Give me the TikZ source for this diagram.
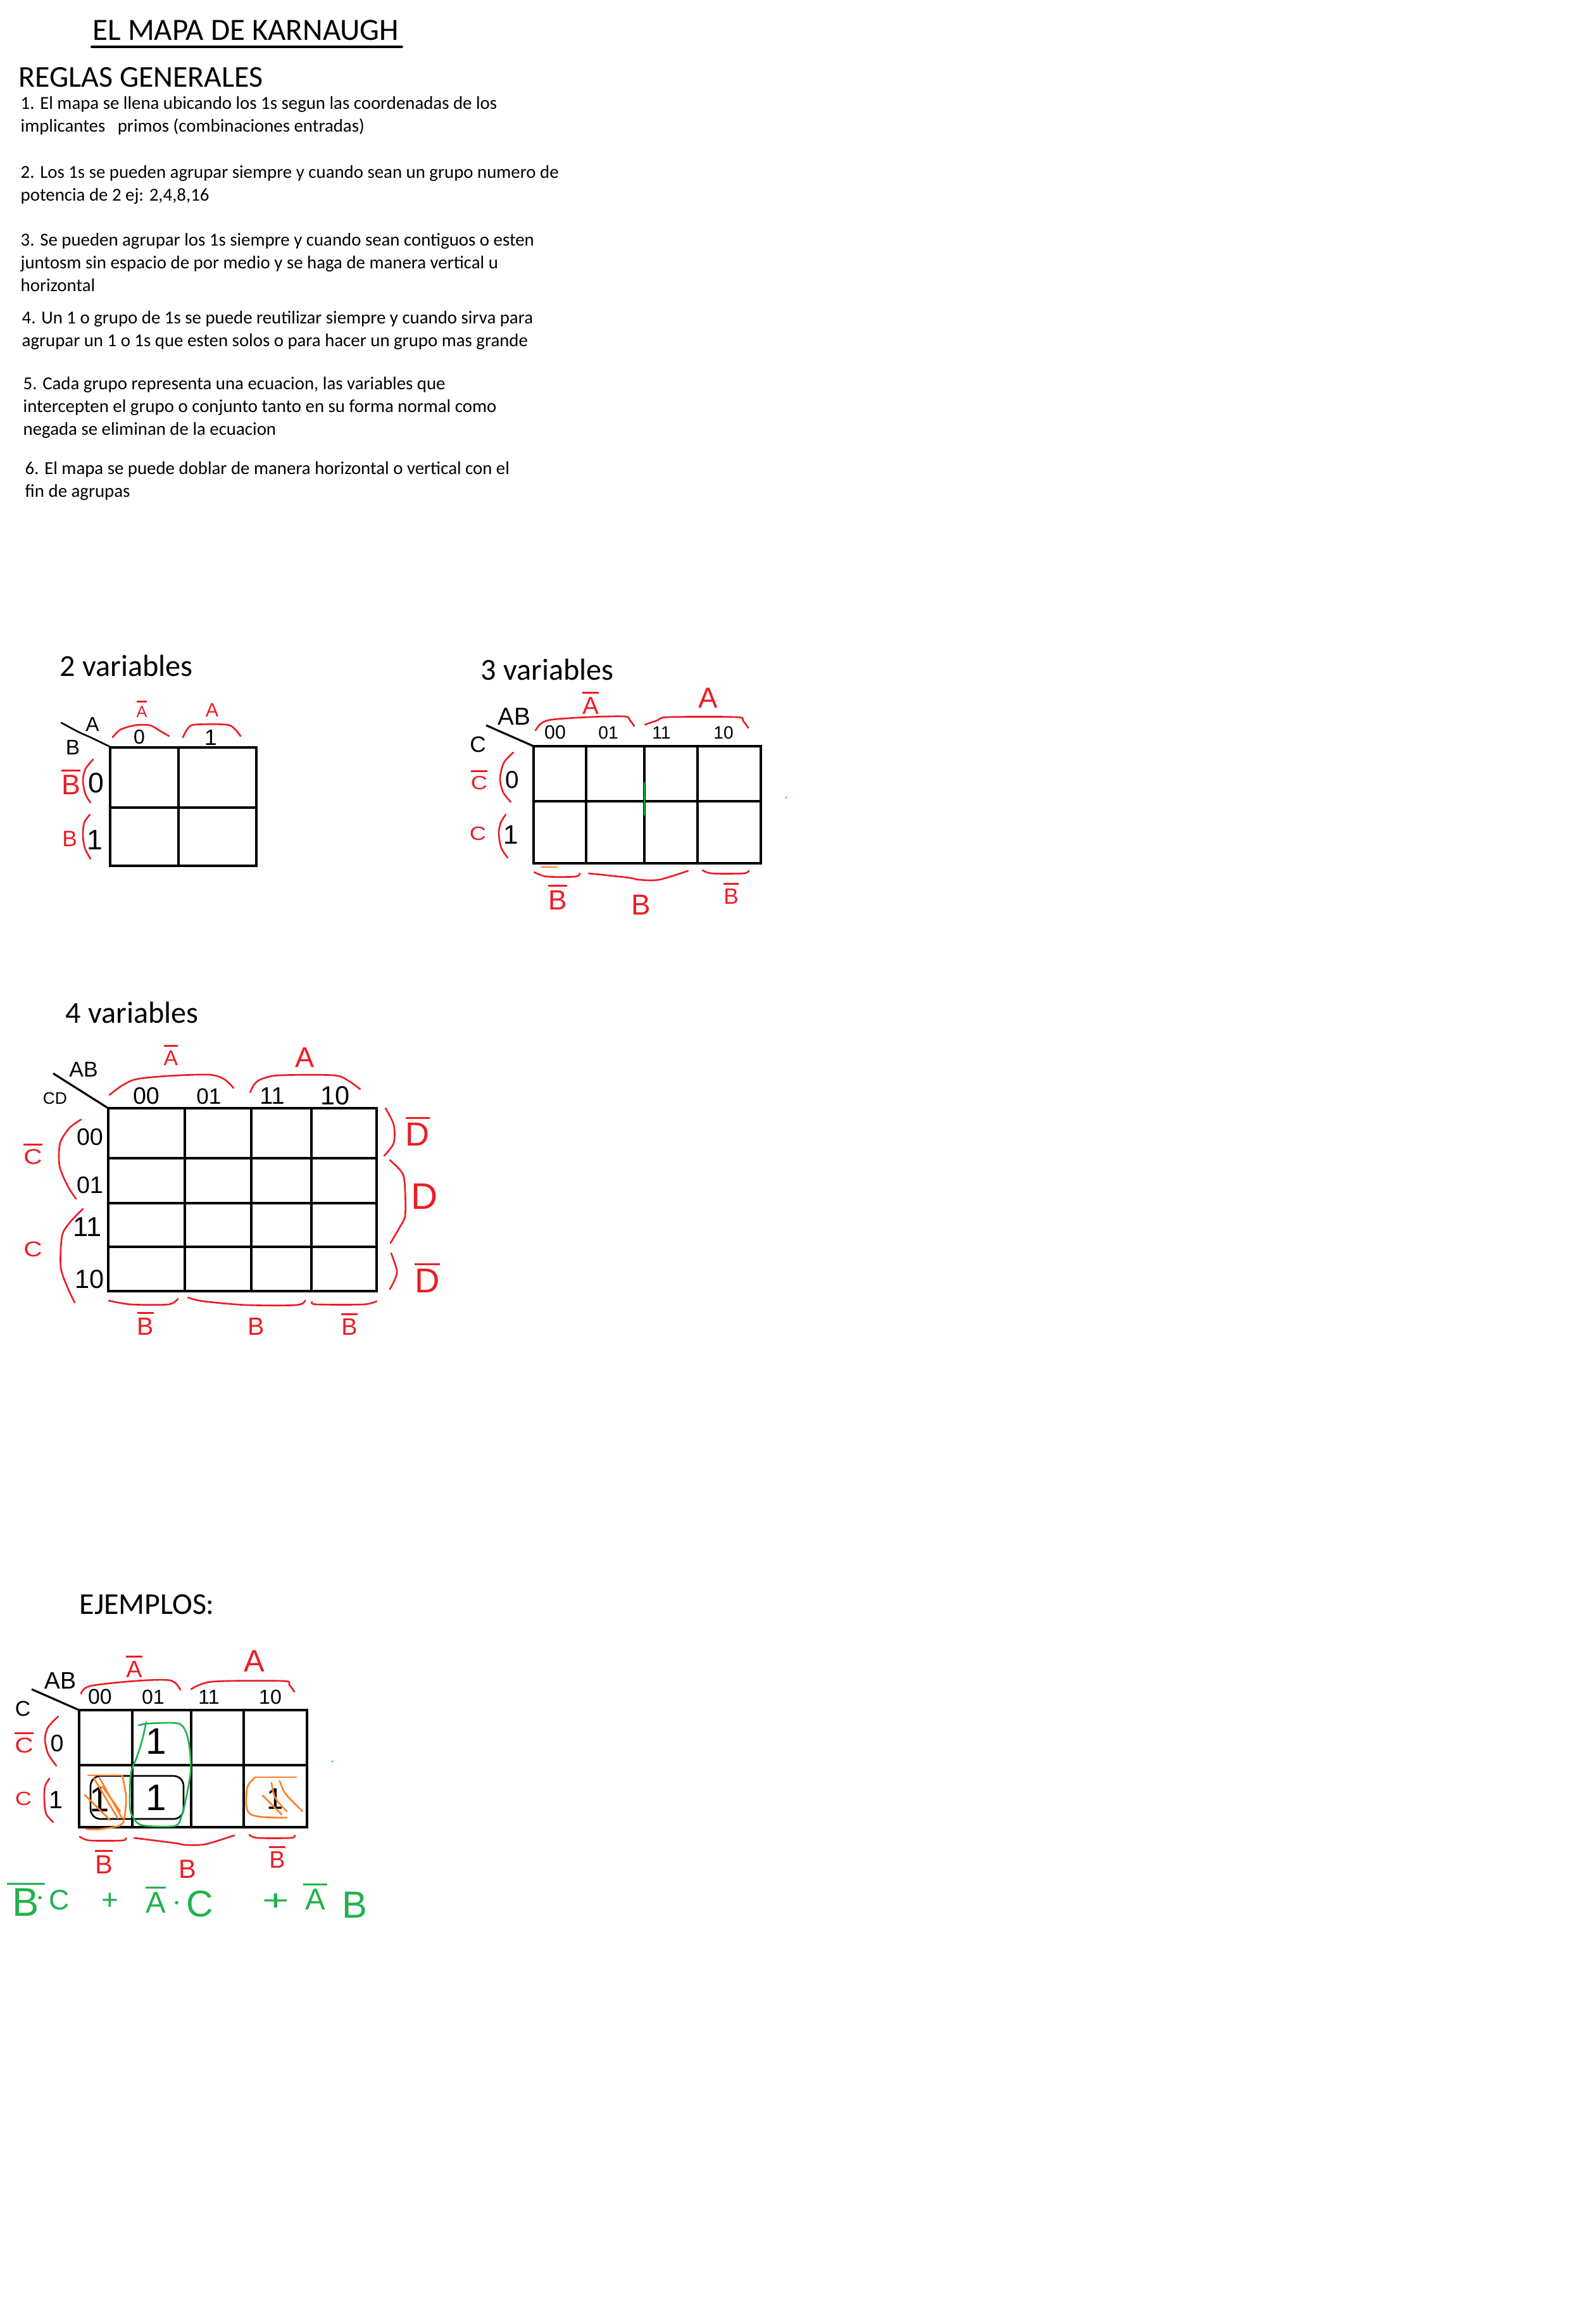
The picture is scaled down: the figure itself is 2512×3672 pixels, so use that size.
\documentclass[tikz,border=0pt]{standalone}
\usepackage{fontspec}
\setmainfont{Carlito}
\newfontfamily\handfont{Liberation Sans}
\usetikzlibrary{calc}
\newcommand{\ol}[2][0pt]{\vbox{\hrule height 0.8pt\kern 1.6pt\hbox{\kern#1#2\kern#1}}}

\begin{document}
\begin{tikzpicture}[
    x=0.01cm, y=-0.01cm,
    txt/.style={anchor=base west, inner sep=0pt, align=left,
      font=\fontsize{8.2}{10.1}\selectfont},
    headline/.style={anchor=base west, inner sep=0pt, font=\fontsize{#1}{#1}\selectfont},
    hand/.style={anchor=base, inner sep=0pt, font=\handfont\fontsize{#1}{#1}\selectfont},
    kgrid/.style={line width=1.15pt},
    pen/.style={line width=0.75pt, line cap=round, line join=round},
    brace/.style={pen, mred}
  ]
    \definecolor{mred}{RGB}{237,28,36}
    \definecolor{mgreen}{RGB}{34,177,76}
    \definecolor{morange}{RGB}{255,127,39}

    \useasboundingbox[fill=white] (0,0) rectangle (2512,3672);

    % reglas (each node sits on the baseline of its last line)
    \node[headline=13.9] (title) at (146,63) {EL MAPA DE KARNAUGH};
    \draw[line width=1.1pt, line cap=round] ($(title.base west)+(-1,11)$) -- ($(title.base east)+(4,11)$);
    \node[headline=13.6] (rules) at (29,137) {REGLAS GENERALES};
    \node[txt] (r1) at (32,208) {1. El mapa se llena ubicando los 1s segun las coordenadas de los\\implicantes\ \ \ primos (combinaciones entradas)};
    \node[txt] (r2) at (32,317) {2. Los 1s se pueden agrupar siempre y cuando sean un grupo numero de\\potencia de 2 ej: 2,4,8,16};
    \node[txt] (r3) at (32,460) {3. Se pueden agrupar los 1s siempre y cuando sean contiguos o esten\\juntosm sin espacio de por medio y se haga de manera vertical u\\horizontal};
    \node[txt] (r4) at (34,547) {4. Un 1 o grupo de 1s se puede reutilizar siempre y cuando sirva para\\agrupar un 1 o 1s que esten solos o para hacer un grupo mas grande};
    \node[txt] (r5) at (36,687) {5. Cada grupo representa una ecuacion, las variables que\\intercepten el grupo o conjunto tanto en su forma normal como\\negada se eliminan de la ecuacion};
    \node[txt] (r6) at (39,785) {6. El mapa se puede doblar de manera horizontal o vertical con el\\fin de agrupas};

    % 2 variables
    \node[headline=13.7] (v2) at (94,1068) {2 variables};
    \draw[kgrid] (174,1181) rectangle (405,1368);
    \draw[kgrid] (282,1181) -- (282,1368);
    \draw[kgrid] (174,1276) -- (405,1276);
    \draw[pen] plot[smooth] coordinates {(97,1142) (125,1157) (143,1165) (174,1180)};
    \node[hand=9.1] (v2a) at (146,1155) {A};
    \node[hand=9.5] (v2b) at (115,1192) {B};
    \node[hand=9.1] (v2c0) at (220,1175) {0};
    \node[hand=10] (v2c1) at (333,1177) {1};
    \node[hand=7.2, mred] (v2na) at (224,1133) {\ol{A}};
    \node[hand=8.7, mred] (v2pa) at (335,1132) {A};
    \node[hand=12.7] (v2r0) at (152,1252) {0};
    \node[hand=12.7] (v2r1) at (150,1342) {1};
    \node[hand=12.7, mred] (v2nb) at (112,1255) {\ol{B}};
    \node[hand=10, mred] (v2pb) at (110,1337) {B};
    \draw[brace] plot[smooth] coordinates {(178,1165) (190,1153) (213,1146) (237,1146) (253,1155) (267,1163)};
    \draw[brace] plot[smooth] coordinates {(289,1165) (296,1152) (307,1145) (358,1145) (371,1152) (380,1163)};
    \draw[brace] plot[smooth] coordinates {(147,1200) (135,1215) (131,1233) (135,1255) (143,1268)};
    \draw[brace] plot[smooth] coordinates {(142,1287) (133,1300) (131,1320) (134,1340) (143,1357)};

    % 3 variables
    \node[headline=13.7] (v3) at (759,1074) {3 variables};
    \draw[kgrid] (843,1179) rectangle (1202,1364);
    \draw[kgrid] (926,1179) -- (926,1364);
    \draw[kgrid] (1018,1179) -- (1018,1364);
    \draw[kgrid] (1102,1179) -- (1102,1364);
    \draw[kgrid] (843,1266) -- (1202,1266);
    \draw[line width=0.9pt] (768,1146) -- (843,1179);
    \draw[pen, mgreen] (1018,1237) -- (1018,1288);
    \fill[mgreen] (1242,1260) circle (1.5);
    \draw[pen, morange] (855,1370) -- (880,1370);
    \node[hand=11] (v3ab) at (812,1145) {AB};
    \node[hand=10] (v3c) at (755,1188) {C};
    \node[hand=8.6] (v3c00) at (877,1167) {00};
    \node[hand=8] (v3c01) at (961,1167) {01};
    \node[hand=8] (v3c11) at (1045,1167) {11};
    \node[hand=8] (v3c10) at (1143,1167) {10};
    \node[hand=11, mred] (v3na) at (933,1128) {\ol{A}};
    \node[hand=13, mred] (v3pa) at (1119,1118) {A};
    \node[hand=8.6, mred, xscale=1.2] (v3nc) at (757,1247) {\ol{C}};
    \node[hand=8.6, mred, xscale=1.2] (v3pc) at (755,1327) {C};
    \node[hand=11] (v3r0) at (809,1245) {0};
    \node[hand=12] (v3r1) at (807,1333) {1};
    \node[hand=12.5, mred] (v3nb) at (881,1437) {\ol{B}};
    \node[hand=13, mred] (v3pb) at (1013,1445) {B};
    \node[hand=10, mred] (v3nb2) at (1155,1428) {\ol{B}};
    \draw[brace] plot[smooth] coordinates {(846,1154) (855,1143) (872,1137) (930,1133) (987,1132) (995,1138) (1002,1147)};
    \draw[brace] plot[smooth] coordinates {(1019,1145) (1039,1138) (1056,1133) (1163,1133) (1174,1139) (1182,1150)};
    \draw[brace] plot[smooth] coordinates {(811,1189) (796,1205) (790,1230) (795,1252) (807,1267)};
    \draw[brace] plot[smooth] coordinates {(799,1287) (791,1300) (788,1317) (792,1340) (802,1355)};
    \draw[brace] plot[smooth] coordinates {(844,1378) (864,1385) (909,1385) (916,1380)};
    \draw[brace] plot[smooth] coordinates {(930,1380) (959,1383) (995,1387) (1010,1390) (1041,1390) (1087,1376)};
    \draw[brace] plot[smooth] coordinates {(1110,1375) (1125,1380) (1174,1380) (1183,1376)};

    % 4 variables
    \node[headline=13.7] (v4) at (103,1616) {4 variables};
    \draw[kgrid] (171,1751) rectangle (595,2040);
    \draw[kgrid] (292,1751) -- (292,2040);
    \draw[kgrid] (397,1751) -- (397,2040);
    \draw[kgrid] (492,1751) -- (492,2040);
    \draw[kgrid] (171,1830) -- (595,1830);
    \draw[kgrid] (171,1901) -- (595,1901);
    \draw[kgrid] (171,1970) -- (595,1970);
    \draw[line width=0.9pt] (84,1696) -- (171,1751);
    \node[hand=9.6] (v4ab) at (132,1701) {AB};
    \node[hand=7.5] (v4cd) at (87,1744) {CD};
    \node[hand=10.7] (v4c00) at (231,1744) {00};
    \node[hand=10] (v4c01) at (330,1744) {01};
    \node[hand=10.7] (v4c11) at (430,1744) {11};
    \node[hand=11.8] (v4c10) at (530,1745) {10};
    \node[hand=9.6, mred] (v4na) at (270,1683) {\ol{A}};
    \node[hand=12.9, mred] (v4pa) at (482,1686) {A};
    \node[hand=10.7] (v4r00) at (142,1809) {00};
    \node[hand=10.7] (v4r01) at (142,1885) {01};
    \node[hand=12.3] (v4r11) at (138,1953) {11};
    \node[hand=11.8] (v4r10) at (142,2035) {10};
    \node[hand=9.6, mred, xscale=1.2] (v4nc) at (52,1839) {\ol{C}};
    \node[hand=9.6, mred, xscale=1.2] (v4pc) at (52,1985) {C};
    \node[hand=15, mred] (v4nd) at (660,1810) {\ol{D}};
    \node[hand=16.6, mred] (v4pd) at (671,1910) {D};
    \node[hand=15.5, mred] (v4nd2) at (675,2042) {\ol{D}};
    \node[hand=11.2, mred] (v4nb) at (230,2109) {\ol{B}};
    \node[hand=11.2, mred] (v4pb) at (405,2109) {B};
    \node[hand=10.7, mred] (v4nb2) at (552,2109) {\ol{B}};
    \draw[brace] plot[smooth] coordinates {(173,1730) (193,1715) (216,1705) (266,1700) (330,1698) (354,1705) (369,1719)};
    \draw[brace] plot[smooth] coordinates {(395,1726) (402,1713) (413,1705) (441,1699) (527,1699) (551,1708) (569,1721)};
    \draw[brace] plot[smooth] coordinates {(128,1769) (110,1782) (95,1806) (94,1842) (107,1874) (120,1894)};
    \draw[brace] plot[smooth] coordinates {(131,1910) (110,1932) (98,1953) (96,2002) (107,2035) (118,2058)};
    \draw[brace] plot[smooth] coordinates {(609,1751) (622,1777) (622,1806) (607,1826)};
    \draw[brace] plot[smooth] coordinates {(616,1833) (636,1854) (640,1881) (640,1921) (631,1940) (617,1964)};
    \draw[brace] plot[smooth] coordinates {(618,1980) (627,2007) (624,2021) (616,2037)};
    \draw[brace] plot[smooth] coordinates {(172,2055) (207,2061) (266,2061) (281,2052)};
    \draw[brace] plot[smooth] coordinates {(297,2050) (321,2056) (390,2062) (468,2062) (482,2055)};
    \draw[brace] plot[smooth] coordinates {(493,2057) (500,2061) (574,2061) (595,2056)};

    % ejemplos
    \node[headline=13.6] (ej) at (125,2550) {EJEMPLOS:};
    \draw[kgrid] (125,2702) rectangle (485,2887);
    \draw[kgrid] (209,2702) -- (209,2887);
    \draw[kgrid] (302,2702) -- (302,2887);
    \draw[kgrid] (385,2702) -- (385,2887);
    \draw[kgrid] (125,2789) -- (485,2789);
    \draw[line width=0.9pt] (50,2669) -- (125,2702);
    \node[hand=10.7] (exab) at (95,2668) {AB};
    \node[hand=9.6] (exc) at (36,2711) {C};
    \node[hand=9.6] (exc00) at (158,2692) {00};
    \node[hand=9.1] (exc01) at (242,2692) {01};
    \node[hand=9.1] (exc11) at (330,2692) {11};
    \node[hand=9.1] (exc10) at (427,2692) {10};
    \node[hand=10.7, mred] (exna) at (212,2650) {\ol{A}};
    \node[hand=13.9, mred] (expa) at (402,2641) {A};
    \node[hand=9.6, mred, xscale=1.2] (exnc) at (38,2769) {\ol{C}};
    \node[hand=8.6, mred, xscale=1.2] (expc) at (37,2852) {C};
    \node[hand=10.7] (exr0) at (90,2767) {0};
    \node[hand=11.2] (exr1) at (88,2857) {1};
    \node[hand=16.6] (one1) at (247,2771) {1};
    \node[hand=16] (one2) at (157,2862) {1};
    \node[hand=16.6] (one3) at (247,2860) {1};
    \node[hand=13.4] (one4) at (435,2858) {1};
    \node[hand=11.8, mred] (exnb) at (164,2960) {\ol{B}};
    \node[hand=11.8, mred] (expb) at (296,2967) {B};
    \node[hand=10.7, mred] (exnb2) at (438,2951) {\ol{B}};
    \draw[brace] plot[smooth] coordinates {(128,2676) (142,2664) (213,2656) (269,2655) (285,2670)};
    \draw[brace] plot[smooth] coordinates {(302,2669) (336,2657) (447,2656) (457,2662) (465,2673)};
    \draw[brace] plot[smooth] coordinates {(92,2712) (76,2729) (71,2748) (76,2771) (89,2790)};
    \draw[brace] plot[smooth] coordinates {(78,2810) (71,2823) (70,2844) (73,2866) (84,2879)};
    \draw[brace] plot[smooth] coordinates {(126,2902) (142,2908) (193,2908) (199,2904)};
    \draw[brace] plot[smooth] coordinates {(212,2904) (276,2912) (293,2915) (324,2914) (370,2900)};
    \draw[brace] plot[smooth] coordinates {(394,2899) (407,2904) (459,2904) (466,2900)};
    % grupos
    \draw[pen, rounded corners=4.5pt] (143,2806) rectangle (290,2874);
    \draw[pen, mgreen] plot[smooth] coordinates {(219,2726) (237,2723) (281,2723) (294,2737) (300,2766) (301,2801) (294,2841) (287,2869) (276,2885) (225,2884) (210,2871) (205,2852) (207,2801) (216,2777) (225,2748) (231,2721)};
    \draw[pen, morange] (139,2805) -- (193,2805);
    \draw[pen, morange] plot[smooth] coordinates {(193,2805) (199,2837) (197,2869) (190,2884) (158,2890) (136,2890)};
    \draw[pen, morange] (134,2836) -- (174,2876);
    \draw[pen, morange] (148,2809) -- (186,2873);
    \draw[pen, morange] (157,2809) -- (193,2873);
    \draw[pen, morange] (162,2823) -- (190,2862);
    \draw[pen, morange] (468,2808) -- (403,2808);
    \draw[pen, morange] plot[smooth] coordinates {(403,2808) (391,2823) (389,2852) (395,2866) (415,2871) (453,2872)};
    \draw[pen, morange] plot[smooth] coordinates {(429,2817) (435,2841) (453,2862)};
    \draw[pen, morange] plot[smooth] coordinates {(442,2814) (451,2834) (478,2862)};
    \draw[pen, morange] (415,2837) -- (445,2867);
    \fill[mgreen] (525,2783) circle (1.5);
    % ecuacion
    \node[hand=18, mgreen] (eq1) at (41,3027) {\ol[2.6pt]{B}};
    \node[hand=14, mgreen, anchor=center] (eq2) at (64,3000) {$\cdot$};
    \node[hand=12.7, mgreen] (eq3) at (94,3017) {C};
    \node[hand=13, mgreen, anchor=center] (eq4) at (174,3004) {+};
    \node[hand=13.5, mgreen] (eq5) at (246,3022) {\ol{A}};
    \node[hand=14, mgreen, anchor=center] (eq6) at (280,3008) {$\cdot$};
    \node[hand=16.7, mgreen] (eq7) at (316,3028) {C};
    \node[hand=13, mgreen, anchor=center, xscale=1.6] (eq8) at (436,3005) {+};
    \node[hand=13.5, mgreen] (eq9) at (498,3017) {\ol[1pt]{A}};
    \node[hand=17, mgreen] (eq10) at (560,3030) {B};
  \end{tikzpicture}
\end{document}
